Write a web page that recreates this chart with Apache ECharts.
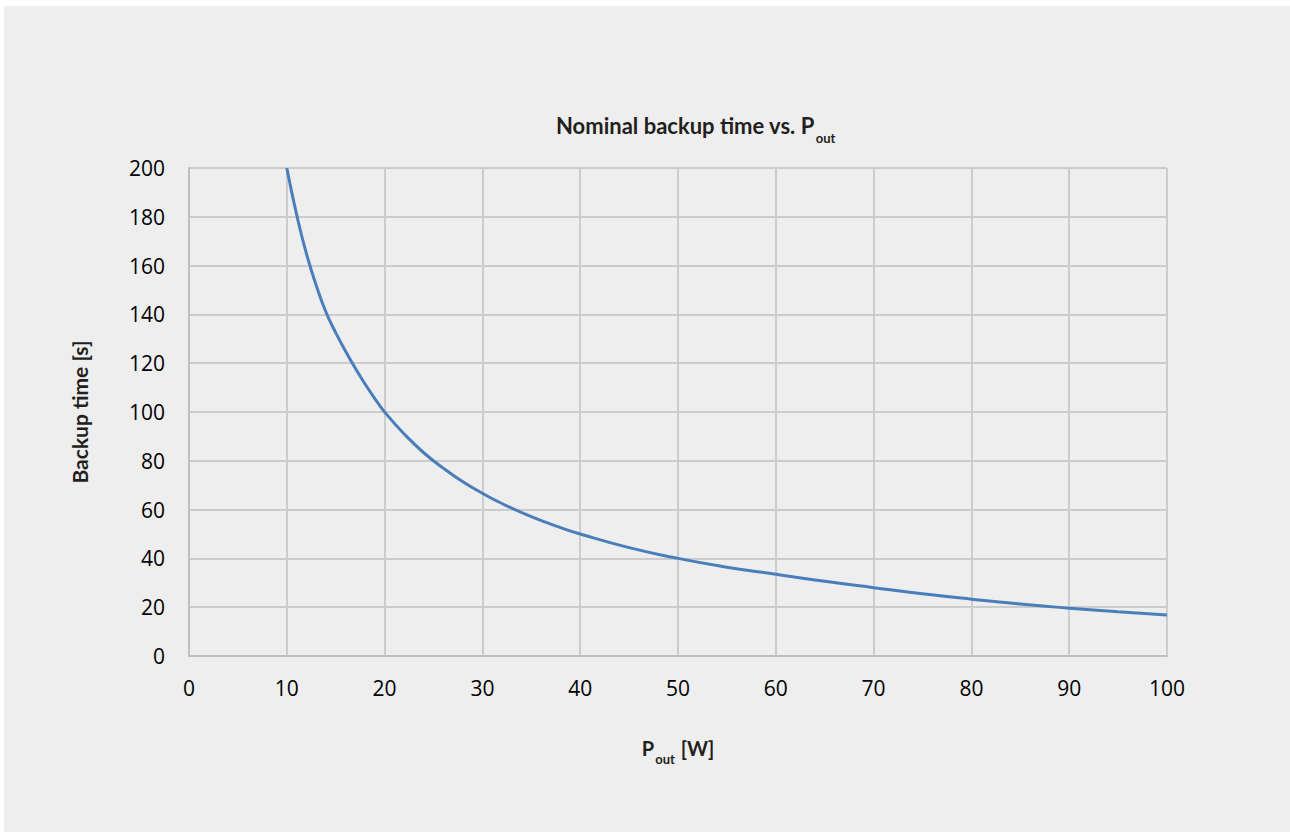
<!DOCTYPE html>
<html>
<head>
<meta charset="utf-8">
<script src="https://cdn.jsdelivr.net/npm/echarts@6/dist/echarts.min.js"></script>
<style>
  html, body { margin: 0; padding: 0; background: #ffffff; }
  #chart { position: absolute; left: 4px; top: 6px; width: 1286px; height: 826px; background: #eeeeee; }
</style>
</head>
<body>
<div id="chart"></div>
<script>
// Output power P_out [W]
const pout = [10, 11, 12, 13, 14, 15, 16, 17, 18, 19, 20, 22, 24, 26, 28, 30, 32, 35, 38, 40, 45, 50, 55, 60, 65, 70, 75, 80, 85, 90, 95, 100];
// Backup time [s]
const backupTime = [200, 181, 165, 152, 141, 132.5, 125, 118, 111.5, 105.5, 100, 91, 83.3, 77, 71.4, 66.7, 62.5, 57.1, 52.6, 50, 44.4, 40, 36.4, 33.5, 30.6, 28, 25.5, 23.3, 21.3, 19.6, 18.1, 16.8];
// Axis ticks
const xTicks = [0, 10, 20, 30, 40, 50, 60, 70, 80, 90, 100];
const yTicks = [0, 20, 40, 60, 80, 100, 120, 140, 160, 180, 200];

const titleText = 'Nominal backup time vs. P';
const titleSub = 'out';
const xName = 'P';
const xNameSub = 'out';
const xNameUnit = ' [W]';
const yName = 'Backup time [s]';

const chart = echarts.init(document.getElementById('chart'), null, { renderer: 'svg' });
const tickFont = 'Open Sans';
const boldFont = 'Lato';

chart.setOption({
  backgroundColor: '#eeeeee',
  animation: false,
  title: {
    text: '{a|' + titleText + '}{b|' + titleSub + '}',
    left: 547,
    top: 103,
    textStyle: {
      rich: {
        a: { fontFamily: boldFont, fontWeight: 'bold', fontSize: 22, color: '#231f20', lineHeight: 25, verticalAlign: 'top' },
        b: { fontFamily: boldFont, fontWeight: 'bold', fontSize: 13, color: '#231f20', lineHeight: 14, padding: [17, 0, 0, 1], verticalAlign: 'top' }
      }
    }
  },
  grid: { left: 185, right: 123, top: 162, bottom: 176, containLabel: false },
  xAxis: {
    type: 'value',
    min: xTicks[0],
    max: xTicks[xTicks.length - 1],
    interval: xTicks[1] - xTicks[0],
    name: '{a|' + xName + '}{b|' + xNameSub + '}{a|' + xNameUnit + '}',
    nameLocation: 'middle',
    nameGap: 82,
    nameTextStyle: {
      rich: {
        a: { fontFamily: boldFont, fontWeight: 'bold', fontSize: 20, color: '#231f20', lineHeight: 22, verticalAlign: 'top' },
        b: { fontFamily: boldFont, fontWeight: 'bold', fontSize: 13, color: '#231f20', lineHeight: 14, padding: [14, 1, 0, 1], verticalAlign: 'top' }
      }
    },
    axisLine: { show: true, lineStyle: { color: '#bfbfbf', width: 2 } },
    axisTick: { show: false },
    splitLine: { show: true, lineStyle: { color: '#cccccc', width: 2 } },
    axisLabel: { fontFamily: tickFont, fontSize: 21, color: '#000000', margin: 21 }
  },
  yAxis: {
    type: 'value',
    min: yTicks[0],
    max: yTicks[yTicks.length - 1],
    interval: yTicks[1] - yTicks[0],
    name: yName,
    nameLocation: 'middle',
    nameRotate: 90,
    nameGap: 99,
    nameTextStyle: { fontFamily: boldFont, fontWeight: 'bold', fontSize: 21, color: '#231f20' },
    axisLine: { show: true, lineStyle: { color: '#bfbfbf', width: 2 } },
    axisTick: { show: false },
    splitLine: { show: true, lineStyle: { color: '#cccccc', width: 2 } },
    axisLabel: { fontFamily: tickFont, fontSize: 21, color: '#000000', margin: 24 }
  },
  series: [{
    type: 'line',
    data: pout.map((x, i) => [x, backupTime[i]]),
    smooth: 0.5,
    showSymbol: false,
    lineStyle: { color: '#4a7ebb', width: 3 },
    itemStyle: { color: '#4a7ebb' }
  }]
});
</script>
</body>
</html>
